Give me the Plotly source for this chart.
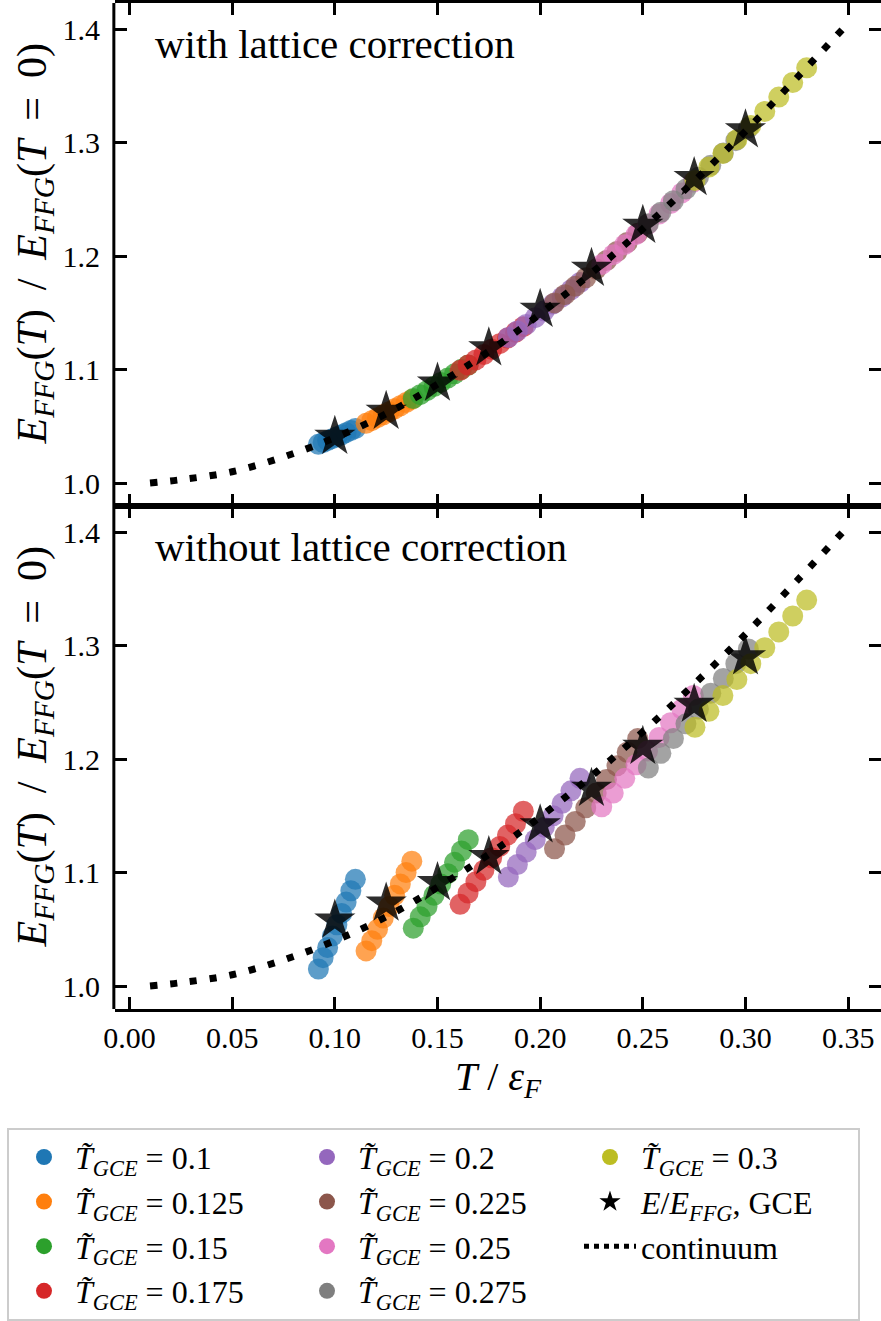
import plotly.graph_objects as go
from plotly.subplots import make_subplots

# ---------------- data ----------------
gce_labels = ["0.1", "0.125", "0.15", "0.175", "0.2", "0.225", "0.25", "0.275", "0.3"]
colors = ["#1f77b4", "#ff7f0e", "#2ca02c", "#d62728", "#9467bd",
          "#8c564b", "#e377c2", "#7f7f7f", "#bcbd22"]

T_010 = [0.0920, 0.0943, 0.0965, 0.0988, 0.1010, 0.1033, 0.1055, 0.1078, 0.1100]
T_0125 = [0.1152, 0.1180, 0.1208, 0.1236, 0.1264, 0.1291, 0.1319, 0.1347, 0.1375]
T_015 = [0.1382, 0.1416, 0.1449, 0.1483, 0.1516, 0.1550, 0.1583, 0.1617, 0.1650]
T_0175 = [0.1610, 0.1649, 0.1687, 0.1726, 0.1764, 0.1803, 0.1841, 0.1880, 0.1918]
T_020 = [0.1845, 0.1889, 0.1932, 0.1976, 0.2020, 0.2063, 0.2107, 0.2150, 0.2194]
T_0225 = [0.2070, 0.2121, 0.2171, 0.2222, 0.2273, 0.2323, 0.2374, 0.2424, 0.2475]
T_025 = [0.2300, 0.2356, 0.2412, 0.2467, 0.2523, 0.2579, 0.2635, 0.2690, 0.2746]
T_0275 = [0.2527, 0.2588, 0.2649, 0.2710, 0.2771, 0.2831, 0.2892, 0.2953, 0.3014]
T_030 = [0.2754, 0.2822, 0.2890, 0.2958, 0.3026, 0.3094, 0.3162, 0.3230, 0.3298]

# with lattice correction
E_lat_010 = [1.0341, 1.0357, 1.0374, 1.0391, 1.0408, 1.0426, 1.0444, 1.0463, 1.0481]
E_lat_0125 = [1.0526, 1.0550, 1.0576, 1.0601, 1.0628, 1.0654, 1.0681, 1.0709, 1.0737]
E_lat_015 = [1.0744, 1.0779, 1.0814, 1.0851, 1.0887, 1.0925, 1.0962, 1.1002, 1.1040]
E_lat_0175 = [1.0993, 1.1039, 1.1085, 1.1132, 1.1179, 1.1228, 1.1277, 1.1328, 1.1378]
E_lat_020 = [1.1282, 1.1340, 1.1397, 1.1457, 1.1517, 1.1578, 1.1640, 1.1702, 1.1767]
E_lat_0225 = [1.1587, 1.1660, 1.1733, 1.1808, 1.1885, 1.1961, 1.2040, 1.2119, 1.2200]
E_lat_025 = [1.1926, 1.2012, 1.2100, 1.2188, 1.2278, 1.2370, 1.2463, 1.2556, 1.2652]
E_lat_0275 = [1.2285, 1.2385, 1.2487, 1.2590, 1.2695, 1.2799, 1.2907, 1.3016, 1.3127]
E_lat_030 = [1.2666, 1.2784, 1.2904, 1.3025, 1.3149, 1.3274, 1.3400, 1.3529, 1.3658]

# without lattice correction
E_raw_010 = [1.015, 1.025, 1.034, 1.044, 1.054, 1.064, 1.074, 1.084, 1.094]
E_raw_0125 = [1.031, 1.040, 1.050, 1.060, 1.070, 1.080, 1.090, 1.100, 1.110]
E_raw_015 = [1.051, 1.061, 1.070, 1.080, 1.090, 1.099, 1.109, 1.119, 1.129]
E_raw_0175 = [1.072, 1.082, 1.092, 1.102, 1.113, 1.123, 1.133, 1.143, 1.154]
E_raw_020 = [1.096, 1.107, 1.118, 1.129, 1.140, 1.150, 1.161, 1.172, 1.183]
E_raw_0225 = [1.121, 1.133, 1.145, 1.157, 1.170, 1.182, 1.194, 1.206, 1.218]
E_raw_025 = [1.158, 1.170, 1.183, 1.195, 1.207, 1.219, 1.232, 1.244, 1.256]
E_raw_0275 = [1.192, 1.205, 1.218, 1.231, 1.244, 1.258, 1.271, 1.284, 1.297]
E_raw_030 = [1.228, 1.242, 1.256, 1.270, 1.284, 1.298, 1.312, 1.326, 1.340]

star_T = [0.1, 0.125, 0.15, 0.175, 0.2, 0.225, 0.25, 0.275, 0.3]
star_E_lat = [1.041, 1.063, 1.088, 1.119, 1.153, 1.189, 1.227, 1.269, 1.311]
star_E_raw = [1.058, 1.073, 1.091, 1.114, 1.142, 1.174, 1.211, 1.248, 1.290]

cont_T = [0.01, 0.025, 0.05, 0.075, 0.1, 0.125, 0.15, 0.175, 0.2, 0.225,
          0.25, 0.275, 0.3, 0.325, 0.35]
cont_E = [1.000, 1.003, 1.010, 1.023, 1.040, 1.061, 1.087, 1.116, 1.149, 1.185,
          1.224, 1.266, 1.310, 1.357, 1.405]

x_ticks = [0.0, 0.05, 0.10, 0.15, 0.20, 0.25, 0.30, 0.35]
y_ticks = [1.0, 1.1, 1.2, 1.3, 1.4]

T_series = [T_010, T_0125, T_015, T_0175, T_020, T_0225, T_025, T_0275, T_030]
E_lat_series = [E_lat_010, E_lat_0125, E_lat_015, E_lat_0175, E_lat_020,
                E_lat_0225, E_lat_025, E_lat_0275, E_lat_030]
E_raw_series = [E_raw_010, E_raw_0125, E_raw_015, E_raw_0175, E_raw_020,
                E_raw_0225, E_raw_025, E_raw_0275, E_raw_030]

# ---------------- figure ----------------
FONT = "'Liberation Serif', 'Times New Roman', 'DejaVu Serif', serif"
NB = "\u00a0"
TH = "\u2009"
fig = make_subplots(rows=2, cols=1, shared_xaxes=True, vertical_spacing=0)

for row, E_series, stars in [(1, E_lat_series, star_E_lat), (2, E_raw_series, star_E_raw)]:
    for T, E, c in zip(T_series, E_series, colors):
        fig.add_trace(go.Scatter(x=T, y=E, mode="markers",
                                 marker=dict(color=c, size=21, opacity=0.72, line=dict(width=0)),
                                 showlegend=False, hoverinfo="skip"), row=row, col=1)
    fig.add_trace(go.Scatter(x=star_T, y=stars, mode="markers",
                             marker=dict(symbol="star", color="black", size=31, opacity=0.82,
                                         line=dict(width=0)),
                             showlegend=False), row=row, col=1)
    fig.add_trace(go.Scatter(x=cont_T, y=cont_E, mode="lines",
                             line=dict(color="black", width=7, dash="7px,13px", shape="spline"),
                             showlegend=False), row=row, col=1)

# legend entries (row-wise order to mimic 3 column-filled columns)
def tlabel(v):
    return "<i>T\u0303</i><sub><i>GCE</i></sub> = " + v

legend_order = [0, 4, 8, 1, 5, "star", 2, 6, "cont", 3, 7]
for item in legend_order:
    if item == "star":
        fig.add_trace(go.Scatter(x=[None], y=[None], mode="markers",
                                 marker=dict(symbol="star", color="black", size=16),
                                 name="<i>E</i>/<i>E</i><sub><i>FFG</i></sub>, GCE"))
    elif item == "cont":
        fig.add_trace(go.Scatter(x=[None], y=[None], mode="lines",
                                 line=dict(color="black", width=5, dash="5px,5px"),
                                 name="continuum"))
    else:
        fig.add_trace(go.Scatter(x=[None], y=[None], mode="markers",
                                 marker=dict(color=colors[item], size=16),
                                 name=tlabel(gce_labels[item])))

tick_common = dict(ticks="inside", ticklen=12, tickwidth=2.5, tickcolor="black",
                   mirror="ticks", showgrid=False, zeroline=False,
                   tickfont=dict(family=FONT, size=30, color="black"))

fig.update_xaxes(range=[-0.00706, 0.3660], tickvals=x_ticks, tickformat=".2f",
                 showline=True, linewidth=3, linecolor="black", **tick_common)
fig.update_xaxes(showticklabels=False, row=1, col=1)
fig.update_xaxes(ticklabelstandoff=0,
                 title=dict(text="<i>T</i>" + NB + "/" + NB + "<i>\u03b5</i><sub><i>F</i></sub>",
                            font=dict(family=FONT, size=40, color="black"), standoff=0),
                 row=2, col=1)
fig.update_yaxes(range=[0.9798, 1.4229], tickvals=y_ticks, tickformat=".1f",
                 ticklabelstandoff=14, showline=False, **tick_common)

# left spine (right spine lies just outside the visible canvas in the reference)
fig.add_shape(type="line", xref="paper", yref="paper", x0=-0.0015, x1=-0.0015, y0=0, y1=1,
              line=dict(color="black", width=3))

ytitle = ("<i>E</i><sub><i>FFG</i></sub>(<i>T</i>)" + NB + TH + "/" + NB + TH +
          "<i>E</i><sub><i>FFG</i></sub>(<i>T</i>" + NB + TH + "=" + NB + TH + "0)")
for yref in ["y domain", "y2 domain"]:
    fig.add_annotation(text=ytitle, xref="paper", yref=yref, x=-0.1045, y=0.522,
                       xanchor="center", yanchor="middle", textangle=-90, showarrow=False,
                       font=dict(family=FONT, size=42, color="black"))

fig.add_annotation(text="with lattice correction", xref="x domain", yref="y domain",
                   x=0.0496, y=0.919, xanchor="left", yanchor="middle", showarrow=False,
                   font=dict(family=FONT, size=41, color="black"))
fig.add_annotation(text="without lattice correction", xref="x2 domain", yref="y2 domain",
                   x=0.0496, y=0.919, xanchor="left", yanchor="middle", showarrow=False,
                   font=dict(family=FONT, size=41, color="black"))

fig.update_layout(
    width=881, height=1321,
    margin=dict(l=115, r=0, t=3, b=310),
    plot_bgcolor="white", paper_bgcolor="white",
    font=dict(family=FONT, color="black"),
    legend=dict(orientation="h", x=-0.141, y=-0.118, xanchor="left", yanchor="top",
                entrywidth=212, entrywidthmode="pixels", itemwidth=52, indentation=4,
                font=dict(family=FONT, size=32, color="black"),
                bordercolor="#cccccc", borderwidth=2, bgcolor="white",
                traceorder="normal"),
)

fig.write_html("out.html")
